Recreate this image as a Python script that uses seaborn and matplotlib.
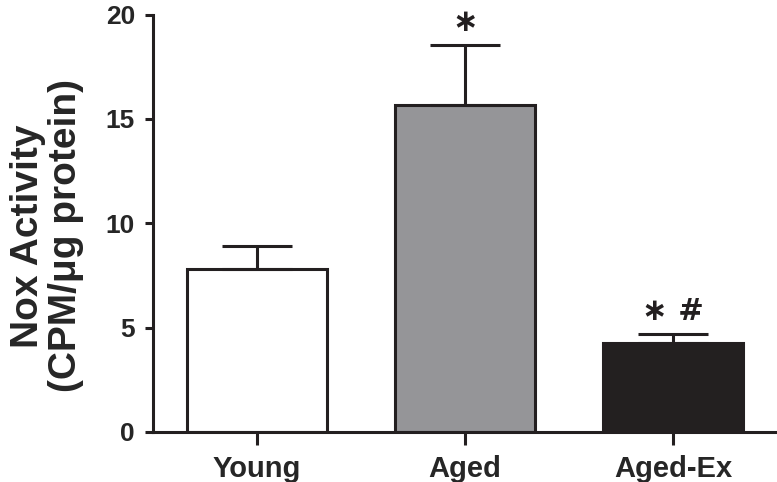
import matplotlib
matplotlib.use("Agg")
import matplotlib.pyplot as plt
import seaborn as sns

# Valores
categorias = ["Young", "Aged", "Aged-Ex"]
medias = [7.8, 15.65, 4.25]
erros = [1.1, 2.88, 0.42]
marcas = ["", "\u2217", "\u2217 #"]
cores = ["#ffffff", "#949599", "#231f20"]

sns.set_style("ticks")
plt.rcParams["font.family"] = ["Liberation Sans", "DejaVu Sans"]
plt.rcParams["font.weight"] = "bold"

cor_linha = "#231f20"
fig = plt.figure(figsize=(7.77, 4.82), dpi=100)
ax = fig.add_axes([0.197, 0.104, 0.803, 0.8655])

sns.barplot(x=categorias, y=medias, hue=categorias, palette=cores, legend=False,
            edgecolor=cor_linha, linewidth=2.2, width=0.67, errorbar=None, ax=ax)

# barras de erro só para cima
xs = [p.get_x() + p.get_width() / 2 for p in ax.patches]
ax.errorbar(xs, medias, yerr=[[0] * len(erros), erros], fmt="none",
            ecolor=cor_linha, elinewidth=2.2, capsize=25, capthick=2.2, zorder=1)

# asteriscos de significância
for x, m, e, txt in zip(xs, medias, erros, marcas):
    if txt:
        ax.text(x, m + e + 1.1, txt, ha="center", va="center", fontsize=22,
                fontweight="bold", color=cor_linha, family=["DejaVu Sans"],
                clip_on=False)

ax.set_xlim(-0.5, 2.5)
ax.set_ylim(0, 20)
ax.set_yticks([0, 5, 10, 15, 20])
ax.set_ylabel("Nox Activity\n(CPM/\u03bcg protein)", fontsize=28, fontweight="bold",
              linespacing=1.1)
ax.yaxis.set_label_coords(-0.11, 0.47)
ax.tick_params(axis="y", labelsize=19, width=2.2, length=6, color=cor_linha, pad=7)
ax.tick_params(axis="x", labelsize=21, width=2.2, length=9, color=cor_linha, pad=8)
for lbl in ax.get_xticklabels() + ax.get_yticklabels():
    lbl.set_fontweight("bold")

sns.despine(ax=ax)
for s in ["left", "bottom"]:
    ax.spines[s].set_linewidth(2.2)
    ax.spines[s].set_color(cor_linha)

plt.savefig("out.png", dpi=100)
plt.close()
